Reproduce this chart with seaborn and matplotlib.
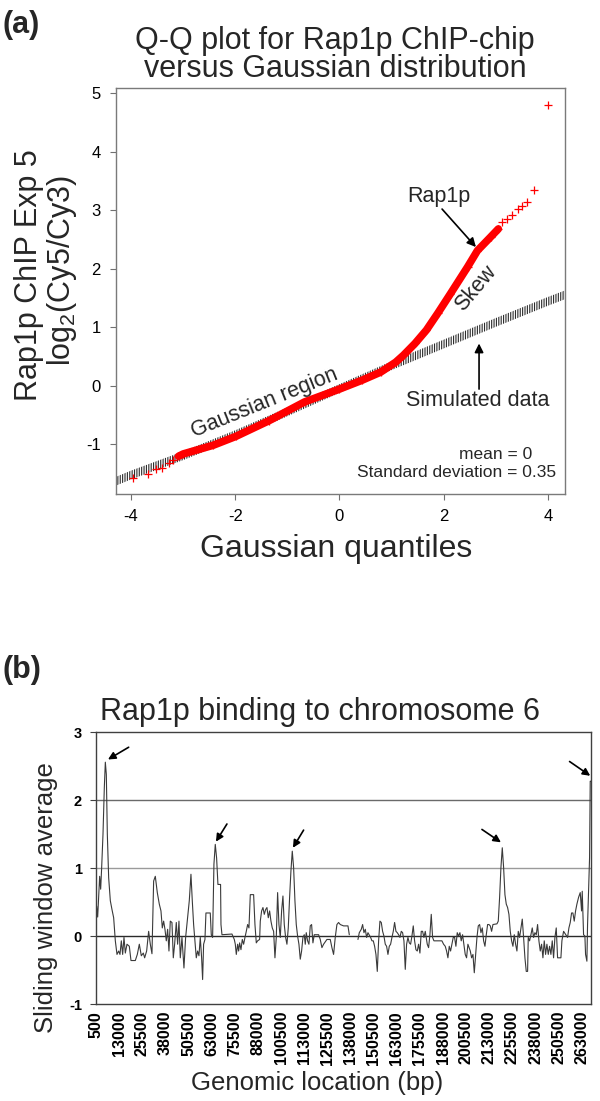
import numpy as np
import pandas as pd
import matplotlib
matplotlib.use('Agg')
import matplotlib.pyplot as plt
import seaborn as sns

# (a) Q-Q plot: Rap1p ChIP-chip log ratios vs Gaussian quantiles
rap_x = [-3.97, -3.67, -3.52, -3.41, -3.28, -3.19, -3.09, -3.0, -2.42, -1.99, -1.35,
         -0.67, 0.0, 0.43, 0.79, 1.08, 1.23, 1.45, 1.67, 1.89, 2.13, 2.46, 2.65, 2.90,
         3.05, 3.13, 3.22, 3.32, 3.42, 3.51, 3.61, 3.74, 4.01]
rap_y = [-1.58, -1.51, -1.43, -1.41, -1.33, -1.27, -1.21, -1.17, -1.02, -0.87, -0.60,
         -0.28, -0.06, 0.09, 0.23, 0.40, 0.52, 0.72, 0.95, 1.24, 1.57, 2.03, 2.31, 2.54,
         2.68, 2.80, 2.85, 2.91, 3.02, 3.08, 3.14, 3.34, 4.80]
# simulated gaussian data (mean 0, sd 0.35)
sim_x = [-4.3, -4.0, -3.0, -2.0, -1.0, 0.0, 1.0, 2.0, 3.0, 4.0, 4.35]
sim_y = [-1.64, -1.53, -1.20, -0.84, -0.45, -0.05, 0.34, 0.71, 1.08, 1.44, 1.56]
qq_xticks = [-4, -2, 0, 2, 4]
qq_yticks = [-1, 0, 1, 2, 3, 4, 5]

# (b) sliding window average along chromosome 6 (NaN = gap in the data)
pos_bp = [860, 1400, 1940, 2480, 3020, 3560, 4280, 5000, 5540, 6080, 6620, 7340, 8240, 9140,
          10040, 10940, 11840, 12740, 13460, 14180, 14900, 15620, 16340, 17240, 18500, 19400,
          21740, 22820, 23900, 24980, 26060, 26780, 27860, 28940, 29840, 30740, 31640, 32540,
          33620, 34700, 35600, 36320, 37040, 37760, 38480, 39200, 39920, 40640, 41540, 42260,
          42980, 43880, 44600, 45320, 46040, 46940, 48020, 48920, 50000, 50900, 51800, 52520,
          53240, 53960, 54680, 55400, 56120, 56840, 57560, 58100, 58640, 59360, 59900, 62240,
          62780, 63500, 64220, 64940, 65660, 66380, 67800, 68020, 68560, 73960, 75220, 75760,
          76300, 77020, 77560, 78100, 78820, 79540, 80260, 80980, 81700, 82420, 83140, 83860,
          85660, 86380, 87100, 87820, 88900, 89260, 89980, 90700, 91420, 92140, 92860, 93580,
          94300, 95020, 95740, 96460, 97180, 97900, 98620, 99340, 100060, 100780, 101500,
          102220, 102940, 103660, 104380, 105100, 105820, 106540, 107260, 107980, 108700,
          109420, 110140, 110860, 111580, 112300, 113020, 113560, 114100, 114820, 115540,
          116260, 116980, 117700, 118420, 120760, 121660, 122560, 123460, 125260, 127060,
          127960, 128860, 129760, 130660, 131560, 132460, 134260, 135190, 136630, 137350,
          139700,
          142030, 142750, 143830, 144550, 145270, 145990, 146710, 147430, 148870, 149590,
          150310, 151030, 151750, 152470, 153190, 153910, 154630, 155350, 156070, 156790,
          157510, 158230, 158950, 159670, 160390, 161110, 161830, 162550, 163270, 163990,
          164710, 165430, 166150, 166870, 167590, 168310, 169030, 169750, 170470, 171190,
          171910, 172630, 173350, 174070, 174790, 175510, 176230, 176950, 177670, 178390,
          179470, 180190, 180910, 181630, 182350, 183070, 187390, 188290, 189190, 189910,
          190630, 191350, 192070, 192790, 193510, 194230, 194950, 195670, 196390, 197110,
          197830, 198550, 199270, 199990, 200710, 201430, 202720, 203440, 204160, 204880,
          205600, 206320, 207040, 207760, 208480, 209200, 209920, 210640, 211360, 212080,
          212800, 213520, 214240, 214960, 217120, 217840, 218560, 219280, 220000, 220720,
          221440, 222160, 222880, 223600, 224320, 225040, 225760, 226480, 227200, 227920,
          228640, 229360, 230080, 230800, 231520, 232240, 232960, 233680, 234040, 234760,
          235480, 236200, 236920, 237640, 238360, 239080, 239800, 240520, 241240, 241960,
          242680, 243400, 244120, 244840, 245560, 246280, 247000, 247720, 248440, 249160,
          249880, 251680, 252220, 253120, 255280, 256000, 256720, 257440, 258160, 258880,
          259600, 260320, 261220, 262120, 262840, 263200, 263920, 264640, 265000, 265720,
          266080, 266620, 267160, 267520, 267880]
win_avg = [0.44, 0.28, 0.57, 0.88, 0.69, 1.01, 1.50, 2.19, 2.56, 2.38, 1.50, 0.86, 0.52, 0.39,
           0.27, -0.07, -0.27, -0.22, -0.27, -0.07, -0.27, -0.02, -0.25, -0.12, -0.15, -0.36,
           -0.36, -0.27, -0.12, -0.29, -0.25, -0.32, -0.22, 0.07, -0.12, -0.26, 0.81, 0.88,
           0.64, 0.47, 0.37, 0.12, 0.22, 0.10, -0.07, 0.10, -0.22, 0.22, 0.20, -0.32,
           -0.12, 0.20, -0.12, 0.22, -0.32, -0.02, -0.47, -0.02, 0.27, 0.52, 0.91, 0.52,
           0.17, -0.07, -0.32, -0.22, -0.29, -0.02, -0.32, -0.64, -0.12, -0.05, 0.34, 0.34,
           0.02, -0.02, 1.06, 1.35, 1.15, 0.76, 0.76, 0.17, 0.02, 0.03, -0.05, -0.12,
           -0.27, -0.12, -0.22, -0.10, -0.20, -0.05, -0.12, -0.02, 0.07, 0.17, 0.12, 0.61,
           0.61, 0.17, -0.10, -0.07, -0.05, 0.22, 0.37, 0.42, 0.32, 0.39, 0.42, 0.27,
           0.37, 0.22, 0.12, 0.07, -0.32, -0.02, 0.64, 0.17, -0.02, 0.37, 0.59,
           0.17, -0.02, -0.12, 0.12, 0.57, 0.96, 1.25, 1.01, 0.52, 0.17,
           0.00, -0.12, -0.34, -0.22, -0.02, 0.02, -0.12, 0.05, -0.07, -0.12,
           0.15, 0.17, -0.10, 0.02, 0.02, -0.05, -0.17, -0.12, -0.05, -0.05,
           -0.17, -0.27, -0.02, 0.17, 0.20, 0.17, 0.15, 0.15, 0.15, 0.02,
           np.nan,
           -0.05, 0.05, 0.10, 0.17, 0.05, 0.10, -0.02, 0.05, -0.02, -0.07,
           -0.07, -0.15, -0.27, -0.52, -0.07, 0.22, 0.20, 0.07, 0.00, -0.12,
           -0.15, -0.27, -0.15, -0.12, -0.02, 0.07, 0.20, 0.07, 0.05, 0.02,
           -0.02, 0.07, 0.05, -0.07, -0.49, -0.12, -0.02, -0.10, -0.12, 0.00,
           0.15, -0.07, -0.20, -0.22, -0.12, -0.25, 0.07, 0.07, -0.02, 0.07,
           -0.12, -0.17, 0.02, 0.32, -0.02, -0.07, -0.07, -0.12, -0.15, -0.22,
           -0.32, -0.15, -0.22, -0.12, -0.02, -0.02, -0.15, 0.05, 0.00, 0.05,
           -0.07, 0.02, -0.12, -0.27, -0.32, -0.12, -0.22, -0.32, -0.27, -0.54,
           -0.27, -0.02, 0.15, 0.17, 0.05, 0.12, -0.07, -0.15, 0.02, 0.17,
           0.17, 0.15, 0.07, 0.17, 0.18, 0.22, 0.57, 1.01, 1.30, 1.01,
           0.61, 0.47, 0.42, 0.32, 0.07, -0.07, -0.15, 0.02, -0.12, -0.22,
           0.07, -0.02, 0.12, 0.25, -0.02, -0.32, -0.52, -0.52, -0.02, -0.07,
           0.02, 0.12, -0.02, 0.05, 0.02, 0.17, -0.07, -0.22, -0.12, -0.32,
           -0.07, -0.27, -0.12, -0.27, -0.15, -0.27, -0.07, -0.32, -0.02, 0.12,
           -0.32, -0.32, -0.07, 0.07, -0.02, 0.12, 0.20, 0.34, 0.34, 0.22,
           0.37, 0.47, 0.57, 0.64, 0.37, 0.66, 0.02, 0.00, -0.27, -0.37,
           0.17, 0.66, 1.15, 2.28, 2.28]
loc_ticks = [500, 13000, 25500, 38000, 50500, 63000, 75500, 88000, 100500, 113000, 125500,
             138000, 150500, 163000, 175500, 188000, 200500, 213000, 225500, 238000, 250500,
             263000]
loc_labels = [str(t) for t in loc_ticks]
win_yticks = [-1, 0, 1, 2, 3]
# arrows pointing at the peaks: (tail, head)
peak_tails = [(18140, 2.78), (71240, 1.65), (112660, 1.56), (209020, 1.57), (256360, 2.57)]
peak_heads = [(6980, 2.60), (65300, 1.39), (106900, 1.30), (219280, 1.38), (267520, 2.36)]

sns.set_theme(style='white')
plt.rcParams['font.family'] = ['Liberation Sans', 'DejaVu Sans']
plt.rcParams['axes.unicode_minus'] = False
plt.rcParams['mathtext.default'] = 'regular'
plt.rcParams['hatch.linewidth'] = 0.8

W, H = 600, 1101
fx = lambda px: px / W
fy = lambda py: 1 - py / H

fig = plt.figure(figsize=(6, 11.01), dpi=100)
fig.patch.set_facecolor('white')

# ---------- (a) ----------
ax1 = fig.add_axes([fx(116.5), fy(494), (565 - 116.5) / W, (494 - 88.3) / H])
sim_x_a = np.array(sim_x)
sim_y_a = np.array(sim_y)
ax1.fill_between(sim_x_a, sim_y_a - 0.075, sim_y_a + 0.075, facecolor='none',
                 edgecolor='#2b2b2b', linewidth=0, hatch='|' * 7, zorder=1)

qq = pd.DataFrame({'q': rap_x, 'v': rap_y})
band = qq[(qq.q > -3.15) & (qq.q < 3.1)]
sns.lineplot(data=band, x='q', y='v', color='red', lw=5.5, sort=False, ax=ax1, zorder=2)
sns.scatterplot(data=qq, x='q', y='v', marker='+', s=35, color='red', linewidth=0.9,
                ax=ax1, zorder=3)

ax1.set_xlim(-4.28, 4.33)
ax1.set_ylim(-1.855, 5.086)
ax1.set_xticks(qq_xticks)
ax1.set_xticklabels([str(t) for t in qq_xticks])
ax1.set_yticks(qq_yticks)
ax1.set_yticklabels([str(t) for t in qq_yticks])
ax1.set_xlabel('')
ax1.set_ylabel('')
ax1.tick_params(axis='both', direction='out', length=4.5, width=0.8, color='#707070',
                labelsize=12, labelcolor='black')
ax1.tick_params(axis='x', pad=6)
ax1.tick_params(axis='y', pad=7)
ax1.xaxis.set_ticks_position('bottom')
ax1.yaxis.set_ticks_position('left')
for s in ax1.spines.values():
    s.set_color('#7a7a7a')
    s.set_linewidth(1)

arrow_kw = dict(arrowstyle='-|>', color='black', lw=1.2, mutation_scale=13,
                shrinkA=0, shrinkB=0)
ax1.text(1.91, 3.23, 'Rap1p', ha='center', va='center', fontsize=15.5)
ax1.annotate('', xy=(2.62, 2.37), xytext=(1.97, 3.02), arrowprops=arrow_kw)
ax1.text(2.62, 1.66, 'Skew', ha='center', va='center', fontsize=15.5, rotation=50)
ax1.text(2.65, -0.26, 'Simulated data', ha='center', va='center', fontsize=15.5)
ax1.annotate('', xy=(2.68, 0.72), xytext=(2.68, -0.06), arrowprops=arrow_kw)
ax1.text(-1.43, -0.29, 'Gaussian region', ha='center', va='center', fontsize=15.5,
         rotation=22)
ax1.text(3.71, -1.18, 'mean = 0', ha='right', va='center', fontsize=12.5)
ax1.text(4.16, -1.48, 'Standard deviation = 0.35', ha='right', va='center', fontsize=12.5)

fig.text(fx(2), fy(10), '(a)', ha='left', va='top', fontsize=22, fontweight='bold')
fig.text(fx(335), fy(49), 'Q-Q plot for Rap1p ChIP-chip', ha='center', va='baseline',
         fontsize=22)
fig.text(fx(335), fy(77), 'versus Gaussian distribution', ha='center', va='baseline',
         fontsize=22)
fig.text(fx(29), fy(275), 'Rap1p ChIP Exp 5', rotation=90, ha='center', va='center',
         fontsize=22)
fig.text(fx(62), fy(270), 'log$_2$(Cy5/Cy3)', rotation=90, ha='center', va='center',
         fontsize=22)
fig.text(fx(336), fy(557), 'Gaussian quantiles', ha='center', va='baseline', fontsize=23)

# ---------- (b) ----------
ax2 = fig.add_axes([fx(96), fy(1004), (591.3 - 96) / W, (1004 - 732.3) / H])
for yv, col in [(2, '#6a6a6a'), (1, '#9a9a9a'), (0, '#2a2a2a')]:
    ax2.axhline(yv, color=col, lw=1, zorder=1)

win = pd.DataFrame({'pos': pos_bp, 'avg': win_avg})
win['seg'] = win['avg'].isna().cumsum()
win = win.dropna()
sns.lineplot(data=win, x='pos', y='avg', units='seg', estimator=None, color='#3a3a3a',
             lw=0.8, ax=ax2, zorder=2)
for tail, head in zip(peak_tails, peak_heads):
    ax2.annotate('', xy=head, xytext=tail,
                 arrowprops=dict(arrowstyle='-|>', color='black', lw=1.2,
                                 mutation_scale=11, shrinkA=0, shrinkB=0))

ax2.set_xlim(500, 268100)
ax2.set_ylim(-1, 3)
ax2.set_xticks(loc_ticks)
ax2.set_xticklabels(loc_labels, rotation=90, fontweight='bold', fontsize=11.5)
ax2.set_yticks(win_yticks)
ax2.set_yticklabels([str(t) for t in win_yticks], fontweight='bold', fontsize=10.5)
ax2.set_xlabel('')
ax2.set_ylabel('')
ax2.tick_params(axis='x', length=0, pad=5, labelcolor='black')
ax2.tick_params(axis='y', direction='out', length=4, width=0.8, color='#404040', pad=6,
                labelcolor='black')
ax2.yaxis.set_ticks_position('left')
for s in ax2.spines.values():
    s.set_color('#404040')
    s.set_linewidth(1)

fig.text(fx(2), fy(655), '(b)', ha='left', va='top', fontsize=22, fontweight='bold')
fig.text(fx(320), fy(720), 'Rap1p binding to chromosome 6', ha='center', va='baseline',
         fontsize=22)
fig.text(fx(46), fy(898), 'Sliding window average', rotation=90, ha='center', va='center',
         fontsize=18.5)
fig.text(fx(317), fy(1090), 'Genomic location (bp)', ha='center', va='baseline',
         fontsize=18.5)

fig.savefig('out.png', dpi=100)
